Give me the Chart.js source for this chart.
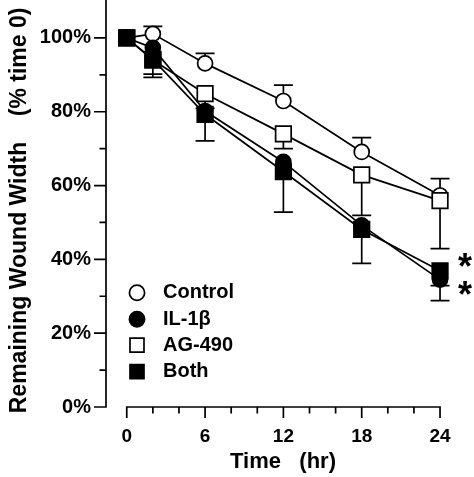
<!DOCTYPE html>
<html>
<head>
<meta charset="utf-8">
<script src="https://cdn.jsdelivr.net/npm/chart.js@4.4.1/dist/chart.umd.min.js"></script>
<style>
  html, body { margin: 0; padding: 0; background: #fff; }
  #wrap { width: 474px; height: 477px; }
</style>
</head>
<body>
<div id="wrap"><canvas id="c" width="474" height="477"></canvas></div>
<script>
// ---- data ----
const times = [0, 2, 6, 12, 18, 24];
const seriesNames = ['Control', 'IL-1\u03B2', 'AG-490', 'Both'];
const control   = [100, 101.1, 93.1, 82.9, 69.1, 57.3];
const controlErr = [0, 2.0, 2.7, 4.3, 3.9, 4.6];      // drawn upward
const il1b      = [100, 97.3, 80.2, 66.4, 49.2, 34.5];
const il1bErr   = [0, 8.0, 8.1, 13.6, 10.3, 5.7];      // drawn downward
const ag490     = [100, 94.0, 84.9, 74.0, 62.9, 55.9];
const ag490Err  = [0, 4.7, 4.0, 4.0, 11.0, 13.0];      // drawn downward
const both      = [100, 94.2, 79.3, 63.8, 48.1, 36.9];
const bothErr   = [0, 4.0, 7.2, 11.0, 9.2, 4.0];       // drawn downward
const xTickLabels = [0, 6, 12, 18, 24];
const xMinorTicks = [2, 4, 8, 10, 14, 16, 20, 22];
const yTickLabels = [0, 20, 40, 60, 80, 100];
const yMinorTicks = [10, 30, 50, 70, 90];
const significance = [{x: 24, y: 40.0, text: '*'}, {x: 24, y: 32.4, text: '*'}];

const FONT = "'Liberation Sans', Arial, Helvetica, sans-serif";
const LW = 1.7;

function pts(vals) { return times.map((t, i) => ({x: t, y: vals[i]})); }

const datasets = [
  {label: seriesNames[0], data: pts(control), err: controlErr, errDir: 1,
   pointStyle: 'circle', pointRadius: 7.5, pointBackgroundColor: '#fff', order: 4},
  {label: seriesNames[1], data: pts(il1b), err: il1bErr, errDir: -1,
   pointStyle: 'circle', pointRadius: 7.5, pointBackgroundColor: '#000', order: 2},
  {label: seriesNames[2], data: pts(ag490), err: ag490Err, errDir: -1,
   pointStyle: 'rect', pointRadius: 11, pointBackgroundColor: '#fff', order: 3},
  {label: seriesNames[3], data: pts(both), err: bothErr, errDir: -1,
   pointStyle: 'rect', pointRadius: 11, pointBackgroundColor: '#000', order: 1}
].map(d => Object.assign({
  borderColor: '#000', borderWidth: LW, pointBorderColor: '#000',
  pointBorderWidth: LW, pointHoverRadius: d.pointRadius, tension: 0,
  showLine: true, fill: false, clip: false
}, d));

function noPad(s) { s.paddingTop = 0; s.paddingBottom = 0; s.paddingLeft = 0; s.paddingRight = 0; }

const decor = {
  id: 'decor',
  beforeDatasetsDraw(chart) {
    const {ctx, chartArea, scales: {x, y}} = chart;
    ctx.save();
    ctx.strokeStyle = '#000';
    ctx.lineWidth = LW;
    ctx.lineCap = 'butt';
    ctx.beginPath();
    // y axis line + ticks
    const xa = chartArea.left;
    ctx.moveTo(xa, chartArea.top - 1);
    ctx.lineTo(xa, y.getPixelForValue(0) + LW / 2);
    yTickLabels.forEach(v => { const p = y.getPixelForValue(v); ctx.moveTo(xa - 12, p); ctx.lineTo(xa, p); });
    yMinorTicks.forEach(v => { const p = y.getPixelForValue(v); ctx.moveTo(xa - 6.5, p); ctx.lineTo(xa, p); });
    // x axis line + ticks
    const ya = chartArea.bottom;
    ctx.moveTo(x.getPixelForValue(0) - LW / 2, ya);
    ctx.lineTo(x.getPixelForValue(24) + LW / 2, ya);
    xTickLabels.forEach(v => { const p = x.getPixelForValue(v); ctx.moveTo(p, ya); ctx.lineTo(p, ya + 11); });
    xMinorTicks.forEach(v => { const p = x.getPixelForValue(v); ctx.moveTo(p, ya); ctx.lineTo(p, ya + 6.5); });
    ctx.stroke();
    // error bars
    ctx.beginPath();
    chart.data.datasets.forEach(ds => {
      ds.data.forEach((pt, i) => {
        const e = ds.err[i];
        if (!e) return;
        const px = x.getPixelForValue(pt.x);
        const p0 = y.getPixelForValue(pt.y);
        const p1 = y.getPixelForValue(pt.y + ds.errDir * e);
        ctx.moveTo(px, p0); ctx.lineTo(px, p1);
        ctx.moveTo(px - 9.5, p1); ctx.lineTo(px + 9.5, p1);
      });
    });
    ctx.stroke();
    ctx.restore();
  },
  afterDatasetsDraw(chart) {
    const {ctx, chartArea, scales: {x, y}} = chart;
    ctx.save();
    // legend
    const sx = chartArea.left + 31, tx = chartArea.left + 57;
    const rowY = [292.7, 319.3, 345.2, 371.6];
    chart.data.datasets.forEach((ds, i) => {
      const cy = rowY[i];
      ctx.lineWidth = LW;
      ctx.strokeStyle = '#000';
      ctx.fillStyle = ds.pointBackgroundColor;
      ctx.beginPath();
      if (ds.pointStyle === 'circle') ctx.arc(sx, cy, 7.6, 0, Math.PI * 2);
      else ctx.rect(sx - 7, cy - 7, 14, 14);
      ctx.fill(); ctx.stroke();
      ctx.fillStyle = '#000';
      ctx.font = 'bold 20px ' + FONT;
      ctx.textBaseline = 'middle';
      ctx.textAlign = 'left';
      ctx.fillText(ds.label, tx, cy);
    });
    // significance asterisks
    ctx.font = 'bold 36px ' + FONT;
    ctx.textAlign = 'center';
    ctx.textBaseline = 'alphabetic';
    significance.forEach(s => {
      ctx.fillText(s.text, x.getPixelForValue(s.x) + 25, y.getPixelForValue(s.y) + 20);
    });
    ctx.restore();
  }
};

new Chart(document.getElementById('c'), {
  type: 'line',
  data: {datasets},
  options: {
    responsive: false,
    animation: false,
    events: [],
    layout: {autoPadding: false, padding: {top: 1, right: 14, bottom: 0, left: 0}},
    plugins: {legend: {display: false}, tooltip: {enabled: false}},
    scales: {
      x: {
        type: 'linear', min: -1.59, max: 25.53,
        grid: {display: false, drawTicks: false},
        border: {display: false},
        afterBuildTicks: s => { s.ticks = xTickLabels.map(v => ({value: v})); },
        afterFit: s => { s.height = 70; noPad(s); },
        ticks: {color: '#000', padding: 18, maxRotation: 0, autoSkip: false,
                font: {family: FONT, size: 19, weight: 'bold'}},
        title: {display: true, text: 'Time   (hr)', color: '#000',
                padding: {top: 0, bottom: 2},
                font: {family: FONT, size: 22, weight: 'bold'}}
      },
      y: {
        type: 'linear', min: 0, max: 110,
        grid: {display: false, drawTicks: false},
        border: {display: false},
        afterBuildTicks: s => { s.ticks = yTickLabels.map(v => ({value: v})); },
        afterFit: s => { s.width = 106; noPad(s); },
        ticks: {color: '#000', padding: 15, autoSkip: false,
                callback: v => v + '%',
                font: {family: FONT, size: 20, weight: 'bold', lineHeight: 0.1}},
        title: {display: true, text: 'Remaining Wound Width    (% time 0)  ', color: '#000',
                padding: {top: 6, bottom: 0},
                font: {family: FONT, size: 23, weight: 'bold'}}
      }
    }
  },
  plugins: [decor]
});
</script>
</body>
</html>
